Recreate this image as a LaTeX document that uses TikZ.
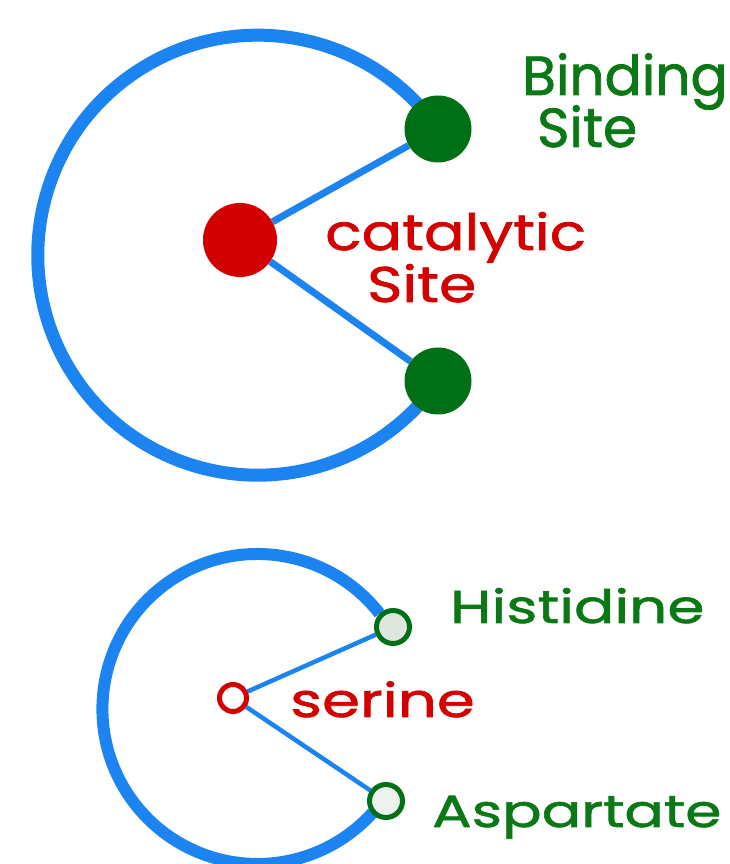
\documentclass[tikz,border=0pt]{standalone}
\usepackage{fontspec}
\setmainfont{Poppins}[FakeBold=1.4]
\newfontfamily\catfont{Poppins}[FakeStretch=1.2,FakeBold=1.4]
\newfontfamily\residuefont{Poppins}[FakeStretch=1.3,FakeBold=1.4]
\usetikzlibrary{backgrounds}
\definecolor{shellblue}{RGB}{28,132,240}
\definecolor{sitegreen}{RGB}{0,112,22}
\definecolor{textgreen}{RGB}{10,120,20}
\definecolor{activered}{RGB}{212,0,0}
\definecolor{ringfill}{RGB}{222,230,222}

\begin{document}
\begin{tikzpicture}[x=1pt,y=1pt]
	\tikzstyle{shell}=[draw=shellblue,line width=13pt]
	\tikzstyle{spoke}=[draw=shellblue,line width=7pt]
	\tikzstyle{thinspoke}=[draw=shellblue,line width=4.5pt]
	\tikzstyle{bindsite}=[circle,fill=sitegreen,minimum size=67pt,inner sep=0pt]
	\tikzstyle{catsite}=[circle,fill=activered,minimum size=74pt,inner sep=0pt]
	\tikzstyle{residue}=[circle,line width=5pt,minimum size=33pt,inner sep=0pt]
	\tikzstyle{greentext}=[text=textgreen,anchor=base west,inner sep=0pt]
	\tikzstyle{redtext}=[text=activered,anchor=base west,inner sep=0pt]
	\useasboundingbox (0,0) rectangle (729,864);
	\node[bindsite] (bind1) at (438,735) {};
	\node[bindsite] (bind2) at (438,483) {};
	\node[catsite] (cat) at (240,624) {};
	\node[greentext,font=\fontsize{55}{55}\selectfont] (bindtxt) at (522,769) {Binding};
	\node[greentext,font=\fontsize{55}{55}\selectfont] (bindsitetxt) at (537,717) {Site};
	\node[redtext,font=\catfont\fontsize{50}{50}\selectfont] (cattxt) at (325,614) {catalytic};
	\node[redtext,font=\catfont\fontsize{50}{50}\selectfont] (catsitetxt) at (367,562) {Site};
	\node[residue,draw=sitegreen,fill=ringfill] (his) at (393,237) {};
	\node[residue,draw=sitegreen,fill=ringfill!50] (asp) at (386,63) {};
	\node[residue,draw=activered,fill=white,minimum size=27pt] (ser) at (233,166) {};
	\node[greentext,font=\residuefont\fontsize{46}{46}\selectfont] (histxt) at (450,241) {Histidine};
	\node[redtext,font=\residuefont\fontsize{47}{47}\selectfont] (sertxt) at (290,147) {serine};
	\node[greentext,font=\residuefont\fontsize{45}{45}\selectfont] (asptxt) at (432,37) {Aspartate};
	\begin{scope}[on background layer]
		\draw[shell] (bind1.center) arc[start angle=35,end angle=325,radius=220];
		\draw[spoke] (cat) -- (bind1);
		\draw[spoke] (cat) -- (bind2);
		\draw[shell,line width=12pt] (his.135) arc[start angle=38,end angle=318,radius=155];
		\draw[thinspoke] (ser) -- (his);
		\draw[thinspoke] (ser) -- (asp);
	\end{scope}
\end{tikzpicture}
\end{document}
